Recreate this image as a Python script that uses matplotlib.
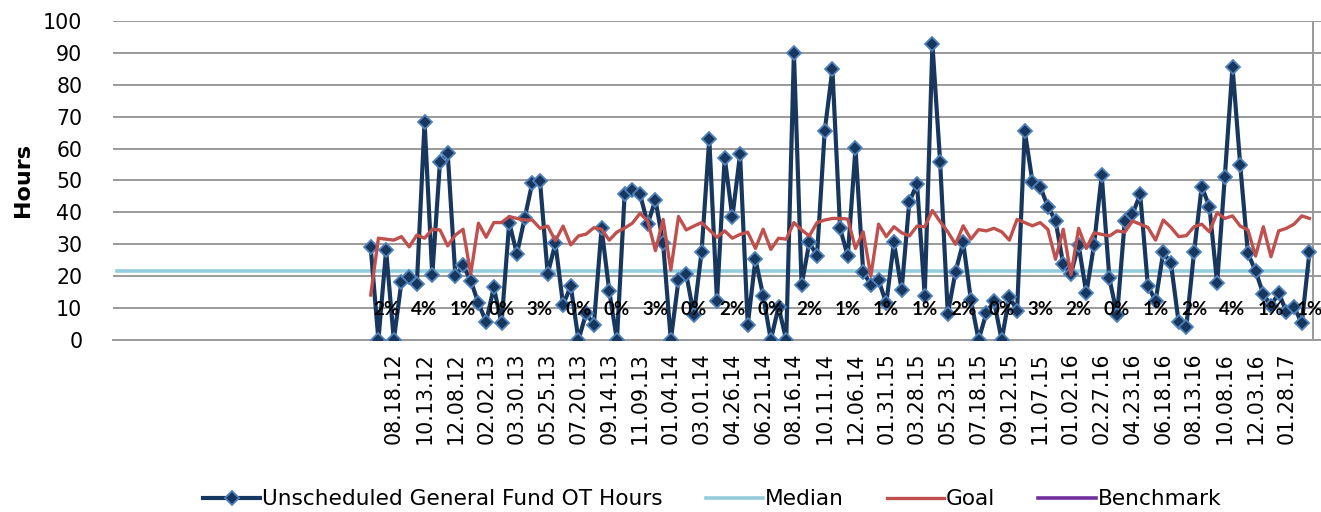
import numpy as np
import matplotlib
matplotlib.use("Agg")
import matplotlib.pyplot as plt

plt.rcParams["font.family"] = ["DejaVu Sans"]

# blank categories on the left of the axis before the data starts
n_blank = 33

ot_hours = [
    29.0, 0, 28.2, 0, 18.3, 19.6, 17.6, 68.3, 20.3, 55.7,
    58.7, 20.1, 23.4, 18.6, 11.5, 5.7, 16.5, 5.2, 36.8, 27.0,
    38.1, 49.3, 49.8, 20.7, 30.3, 11.0, 16.9, 0, 8.4, 4.7,
    35.0, 15.4, 0, 45.7, 47.0, 45.7, 36.4, 43.9, 30.3, 0,
    18.8, 20.7, 7.8, 27.7, 63.0, 12.3, 57.2, 38.5, 58.2, 4.7,
    25.3, 13.9, 0, 10.4, 0, 90.1, 17.2, 30.6, 26.4, 65.5,
    84.8, 35.0, 26.3, 60.1, 21.4, 17.2, 18.8, 11.5, 30.6, 15.7,
    43.4, 48.8, 13.9, 92.7, 55.9, 8.2, 21.4, 30.6, 12.5, 0,
    8.4, 12.2, 0, 13.6, 9.1, 65.5, 49.6, 48.1, 41.8, 37.4,
    23.7, 20.7, 29.8, 14.6, 29.8, 51.7, 19.3, 7.8, 37.4, 39.4,
    45.7, 17.0, 12.2, 27.5, 24.0, 5.5, 4.2, 27.5, 48.1, 41.8,
    17.8, 51.2, 85.7, 54.9, 27.2, 21.6, 14.4, 10.7, 14.8, 8.9,
    10.4, 5.2, 27.5,
]

goal = [
    14.1, 31.9, 31.6, 31.3, 32.4, 29.2, 32.9, 31.9, 34.7, 34.5,
    29.5, 32.9, 34.7, 20.7, 36.6, 32.2, 36.8, 36.8, 38.7, 38.1,
    37.6, 37.6, 35.0, 35.7, 31.1, 35.7, 29.8, 32.6, 33.2, 35.2,
    34.7, 31.3, 33.8, 35.1, 36.6, 39.7, 37.3, 28.0, 37.8, 21.9,
    38.7, 34.5, 35.7, 36.8, 34.5, 32.2, 34.2, 31.9, 33.1, 33.8,
    28.7, 34.7, 28.4, 31.9, 31.6, 36.8, 34.5, 32.6, 36.8, 37.6,
    38.1, 38.1, 37.9, 28.7, 33.9, 20.1, 36.3, 32.4, 35.5, 33.6,
    32.6, 35.7, 35.5, 40.6, 37.1, 33.9, 30.0, 35.8, 31.6, 34.6,
    34.2, 35.0, 33.9, 31.3, 37.8, 36.8, 35.8, 36.8, 34.7, 25.3,
    34.7, 20.4, 35.0, 28.7, 33.6, 33.1, 32.6, 34.2, 33.8, 37.3,
    36.3, 35.3, 31.3, 37.6, 35.3, 32.4, 32.7, 35.5, 36.3, 33.9,
    39.9, 38.1, 38.9, 35.7, 34.5, 26.3, 35.5, 26.1, 34.2, 35.0,
    36.3, 38.9, 38.1,
]

median_value = 21.5

tick_labels = [
    "08.18.12", "10.13.12", "12.08.12", "02.02.13", "03.30.13", "05.25.13",
    "07.20.13", "09.14.13", "11.09.13", "01.04.14", "03.01.14", "04.26.14",
    "06.21.14", "08.16.14", "10.11.14", "12.06.14", "01.31.15", "03.28.15",
    "05.23.15", "07.18.15", "09.12.15", "11.07.15", "01.02.16", "02.27.16",
    "04.23.16", "06.18.16", "08.13.16", "10.08.16", "12.03.16", "01.28.17",
]

pct_labels = [
    "2%", "4%", "1%", "0%", "3%", "0%", "0%", "3%", "0%", "2%",
    "0%", "2%", "1%", "1%", "1%", "2%", "0%", "3%", "2%", "0%",
    "1%", "2%", "4%", "1%", "1%",
]

n_cat = n_blank + len(ot_hours)
x_all = np.arange(n_cat)
x_data = np.arange(n_blank, n_cat)
x_ticks = x_data[3::4][:len(tick_labels)]
x_pct = x_data[2::5][:len(pct_labels)]

NAVY = "#17375E"
MARKER_EDGE = "#4F81BD"
RED = "#C0504D"
LIGHTBLUE = "#93CDDD"
PURPLE = "#7030A0"
GRID = "#9A9A9A"

fig = plt.figure(figsize=(13.21, 5.12), dpi=100)
ax = fig.add_axes([0.0855, 0.336, 0.9145, 0.623])

ax.plot(x_data, ot_hours, color=NAVY, lw=3.0, marker="D", ms=7.5,
        mfc=NAVY, mec=MARKER_EDGE, mew=1.3,
        label="Unscheduled General Fund OT Hours", zorder=4)
ax.plot(x_all, np.full(n_cat, median_value), color=LIGHTBLUE, lw=2.6,
        label="Median", zorder=3)
ax.plot(x_data, goal, color=RED, lw=2.4, label="Goal", zorder=5)
ax.plot([], [], color=PURPLE, lw=2.6, label="Benchmark")

for xp, txt in zip(x_pct, pct_labels):
    ax.text(xp, 9.5, txt, ha="center", va="center", fontsize=13.5,
            fontweight="bold", family=["Lato", "DejaVu Sans"],
            color="black", zorder=6)

ax.set_ylim(0, 100)
ax.set_yticks(range(0, 101, 10))
ax.set_xlim(-0.5, n_cat + 0.5)
ax.axvline(n_cat - 0.5, color=GRID, lw=1.4, zorder=1)
ax.set_xticks(x_ticks)
ax.set_xticklabels(tick_labels, rotation=90)
ax.grid(axis="y", color=GRID, lw=1.4)
ax.set_axisbelow(True)
for side in ["left", "right", "top"]:
    ax.spines[side].set_visible(False)
ax.spines["bottom"].set_color(GRID)
ax.spines["bottom"].set_linewidth(1.4)
ax.tick_params(axis="both", length=0, labelsize=14.8)
ax.tick_params(axis="y", pad=22)
ax.tick_params(axis="x", pad=9)

ax.set_ylabel("Hours", fontsize=16, fontweight="bold")
ax.yaxis.set_label_coords(-0.066, 0.5)

fig.legend(loc="center", bbox_to_anchor=(0.539, 0.025), ncol=4,
           frameon=False, fontsize=15.6, handlelength=2.64,
           columnspacing=2.0, handletextpad=0.08)

fig.savefig("out.png", dpi=100)
